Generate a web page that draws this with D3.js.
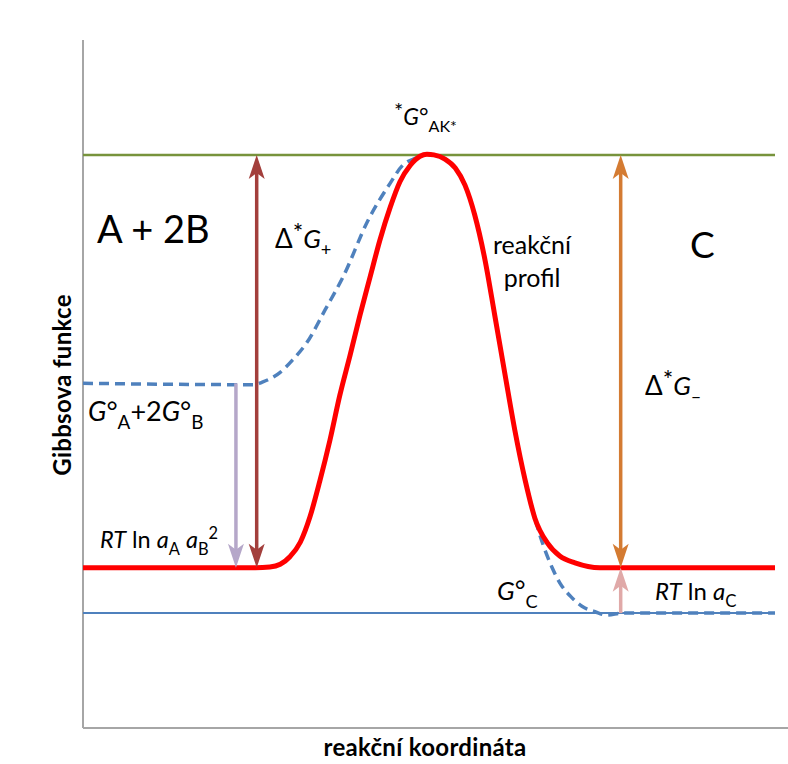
<!DOCTYPE html>
<html>
<head>
<meta charset="utf-8">
<script src="https://cdn.jsdelivr.net/npm/d3@7"></script>
<style>
  body { margin: 0; background: #fff; }
  text { font-family: Lato, "Open Sans", sans-serif; fill: #000; }
</style>
</head>
<body>
<div id="chart"></div>
<script>
// reaction coordinate runs 0..100, Gibbs function in arbitrary units 0..100
var profileX = [0, 24.9, 27.0, 28.5, 29.9, 31.4, 32.8, 34.2, 35.7, 37.1, 38.6, 40.0, 41.5, 42.9, 44.4, 45.8, 47.3, 48.7, 49.7, 50.7,
  52.3, 53.8, 55.2, 56.6, 58.1, 59.5, 61.0, 62.4, 63.9, 65.3, 67.1, 68.9, 71.1, 74.7, 100];
var profileG = [23.3, 23.3, 23.4, 23.8, 24.9, 27.0, 30.7, 35.8, 41.9, 48.3, 54.2, 59.9, 65.6, 70.9, 75.7, 79.4, 81.8, 83.1, 83.4, 83.3,
  82.7, 81.4, 78.9, 74.6, 68.0, 60.0, 51.3, 43.3, 36.0, 30.5, 26.9, 25.0, 24.0, 23.3, 23.3];
// standard-state profile (dashed)
var standardX = [0, 24.6, 26.0, 28.5, 30.3, 32.4, 35.0, 37.6, 41.2, 44.4, 46.2, 48.0, 49.7, 50.7,
  52.3, 53.8, 55.2, 56.6, 58.1, 59.5, 61.0, 62.4, 63.9, 65.3, 66.5, 67.8, 68.9, 70.4, 72.1, 74.0, 75.7, 78.0, 100];
var standardG = [50.1, 49.9, 50.3, 51.7, 53.5, 56.1, 60.8, 65.6, 73.8, 79.2, 81.8, 82.8, 83.4, 83.3,
  82.7, 81.4, 78.9, 74.6, 68.0, 60.0, 51.3, 43.3, 36.0, 30.5, 26.6, 23.3, 21.1, 19.2, 17.7, 16.9, 16.4, 16.7, 16.7];
// reference levels
var activatedG = 83.3;   // *G°AK*
var productStdG = 16.7;  // G°C
// arrows: position on reaction coordinate, start and end level
var arrowNames = ["dG+", "RTlnA", "dG-", "RTlnC"];
var arrowX = [25.1, 22.1, 77.7, 77.7];
var arrowFrom = [23.3, 50.1, 23.3, 16.7];
var arrowTo = [83.3, 23.3, 83.3, 23.3];
var arrowBoth = [true, false, true, false];

var arrowColour = ["#a33f3c", "#b5a7c9", "#d47b32", "#e0a9a8"];

var w = 788, h = 764;
var svg = d3.select("#chart").append("svg")
  .attr("width", w).attr("height", h)
  .style("background", "#fff");

var x = d3.scaleLinear().domain([0, 100]).range([83, 775]);
var y = d3.scaleLinear().domain([0, 100]).range([728, 40]);

// axes (plain lines, no ticks)
svg.append("line").attr("x1", x(0)).attr("x2", x(0)).attr("y1", y(100)).attr("y2", y(0))
  .style("stroke", "#a6a6a6").style("stroke-width", 2);
svg.append("line").attr("x1", x(0)).attr("x2", w).attr("y1", y(0)).attr("y2", y(0))
  .style("stroke", "#a6a6a6").style("stroke-width", 2);

// horizontal levels
svg.append("line").attr("x1", x(0)).attr("x2", x(100)).attr("y1", y(activatedG)).attr("y2", y(activatedG))
  .style("stroke", "#77933c").style("stroke-width", 2.5);
svg.append("line").attr("x1", x(0)).attr("x2", x(100)).attr("y1", y(productStdG)).attr("y2", y(productStdG))
  .style("stroke", "#4f81bd").style("stroke-width", 2);

var line = d3.line()
  .x(function (d) { return x(d[0]); })
  .y(function (d) { return y(d[1]); })
  .curve(d3.curveMonotoneX);

svg.append("path")
  .attr("d", line(d3.zip(standardX, standardG)))
  .style("fill", "none").style("stroke", "#4f81bd")
  .style("stroke-width", 3.5).style("stroke-dasharray", "10,6");

svg.append("path")
  .attr("d", line(d3.zip(profileX, profileG)))
  .style("fill", "none").style("stroke", "#ff0000")
  .style("stroke-width", 5).style("stroke-linejoin", "round");

// arrow heads (tip sits 14px past the end of the shortened shaft)
var defs = svg.append("defs");
arrowColour.forEach(function (c, i) {
  defs.append("marker")
    .attr("id", "head" + i)
    .attr("markerUnits", "userSpaceOnUse")
    .attr("viewBox", "-12 -9 28 18")
    .attr("refX", 0).attr("refY", 0)
    .attr("markerWidth", 28).attr("markerHeight", 18)
    .attr("orient", "auto-start-reverse")
    .append("path")
    .attr("d", "M14,0 L-10,-8 L-4,0 L-10,8 Z")
    .style("fill", c);
});

arrowX.forEach(function (ax, i) {
  var y1 = y(arrowFrom[i]), y2 = y(arrowTo[i]);
  var dir = y2 > y1 ? 1 : -1;
  var l = svg.append("line")
    .attr("x1", x(ax)).attr("x2", x(ax))
    .attr("y1", arrowBoth[i] ? y1 + dir * 14 : y1)
    .attr("y2", y2 - dir * 14)
    .style("stroke", arrowColour[i]).style("stroke-width", 3.5);
  l.attr("marker-end", "url(#head" + i + ")");
  if (arrowBoth[i]) l.attr("marker-start", "url(#head" + i + ")");
});

// rich text helper: flags i = italic, b = subscript, p = superscript, s = star (big superscript)
function rich(px, py, size, parts, anchor) {
  var t = svg.append("text").attr("x", px).attr("y", py)
    .style("font-size", size + "px").attr("text-anchor", anchor || "start");
  var shift = 0;
  parts.forEach(function (p) {
    var f = p[1] || "";
    var s = t.append("tspan").text(p[0]);
    var target = 0;
    if (f.indexOf("b") >= 0) target = size * 0.3;
    if (f.indexOf("p") >= 0) target = -size * 0.4;
    if (f.indexOf("s") >= 0) target = -size * 0.25;
    s.attr("dy", target - shift);
    shift = target;
    if (f.indexOf("s") >= 0) s.style("font-size", (size * 0.95) + "px");
    else if (target !== 0) s.style("font-size", (size * 0.7) + "px");
    if (f.indexOf("i") >= 0) s.style("font-style", "italic");
  });
  return t;
}

rich(394, 125, 23, [["*", "s"], ["G", "i"], ["°", ""], ["AK*", "b"]]);
rich(97, 243, 38, [["A + 2B", ""]]);
rich(690, 258, 37, [["C", ""]]);
rich(275, 248, 26, [["\u0394", ""], ["*", "s"], ["G", "i"], ["+", "b"]]);
rich(645, 395, 26, [["\u0394", ""], ["*", "s"], ["G", "i"], ["\u2013", "b"]]);
rich(88, 421, 27, [["G", "i"], ["°", ""], ["A", "b"], ["+2", ""], ["G", "i"], ["°", ""], ["B", "b"]]);
rich(100, 548, 23.5, [["RT", "i"], [" ln ", ""], ["a", "i"], ["A", "b"], [" ", ""], ["a", "i"], ["B", "b"], ["2", "p"]]);
rich(497, 600, 26, [["G", "i"], ["°", ""], ["C", "b"]]);
rich(655, 600, 24, [["RT", "i"], [" ln ", ""], ["a", "i"], ["C", "b"]]);
rich(532, 254, 25, [["reakční", ""]], "middle");
rich(532, 287, 25, [["profil", ""]], "middle");

// axis titles
svg.append("text")
  .attr("x", 425).attr("y", 756)
  .attr("text-anchor", "middle")
  .style("font-size", "24px").style("font-weight", "bold")
  .style("letter-spacing", "0.3px")
  .text("reakční koordináta");
svg.append("text")
  .attr("transform", "translate(71,385) rotate(-90)")
  .attr("text-anchor", "middle")
  .style("font-size", "24px").style("font-weight", "bold")
  .style("letter-spacing", "0.3px")
  .text("Gibbsova funkce");
</script>
</body>
</html>
